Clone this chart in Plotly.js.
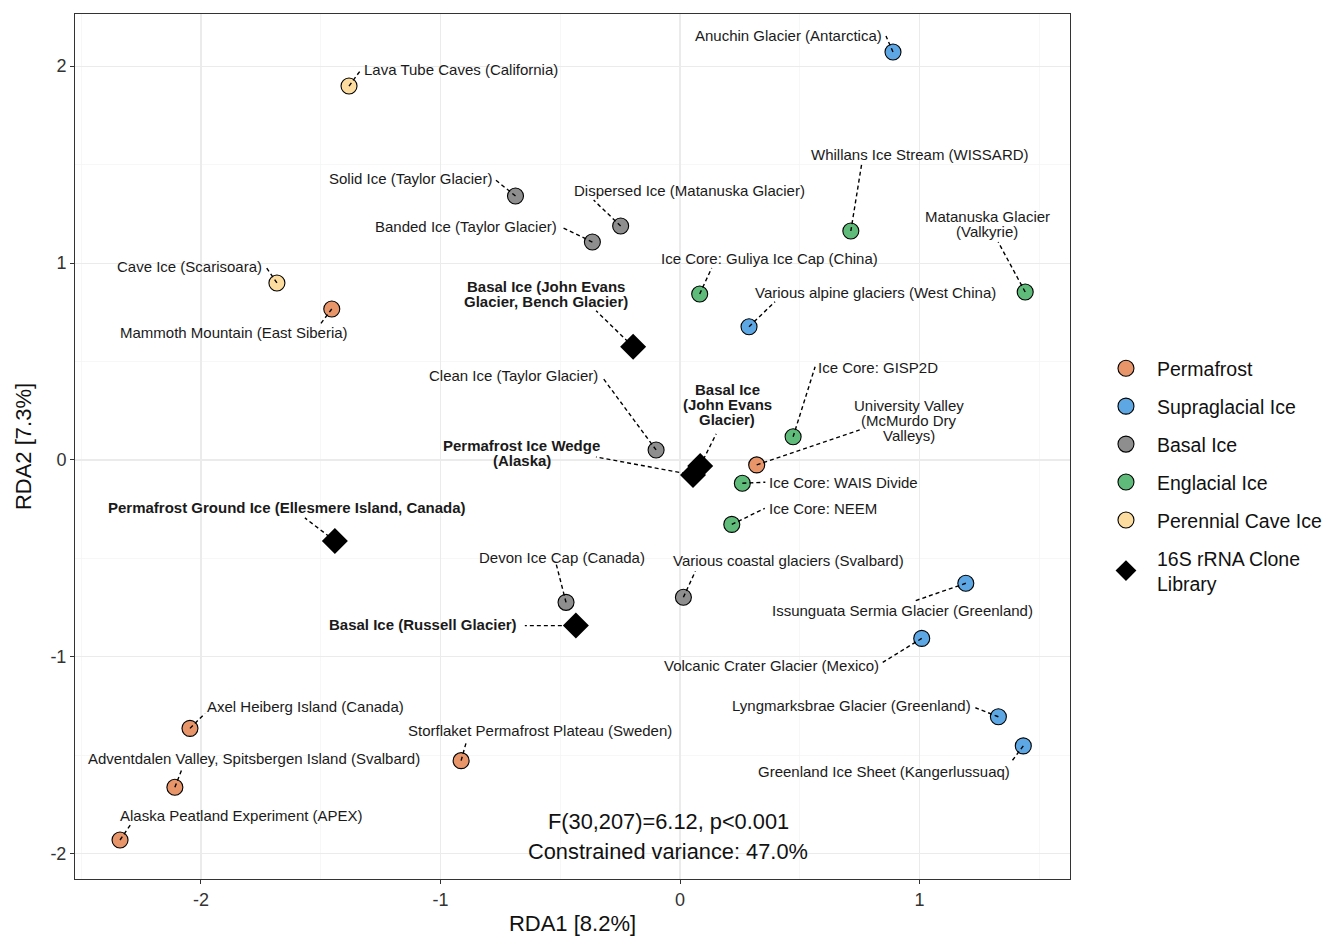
<!DOCTYPE html>
<html><head><meta charset="utf-8">
<script src="https://cdn.plot.ly/plotly-3.0.1.min.js"></script>
<style>html,body{margin:0;padding:0;background:#fff}#chart{width:1323px;height:936px}</style>
</head><body><div id="chart"></div>
<script>
// ---------------- data ----------------
const groupNames = ['Permafrost', 'Supraglacial Ice', 'Basal Ice', 'Englacial Ice', 'Perennial Cave Ice', '16S rRNA Clone<br>Library'];

const permafrostSites = ['Mammoth Mountain (East Siberia)', 'Axel Heiberg Island (Canada)', 'Adventdalen Valley, Spitsbergen Island (Svalbard)', 'Alaska Peatland Experiment (APEX)', 'Storflaket Permafrost Plateau (Sweden)', 'University Valley<br>(McMurdo Dry<br>Valleys)'];
const permafrostRDA1 = [-1.454, -2.046, -2.109, -2.338, -0.914, 0.320];
const permafrostRDA2 = [0.767, -1.363, -1.662, -1.930, -1.527, -0.025];

const supraSites = ['Anuchin Glacier (Antarctica)', 'Various alpine glaciers (West China)', 'Issunguata Sermia Glacier (Greenland)', 'Volcanic Crater Glacier (Mexico)', 'Lyngmarksbrae Glacier (Greenland)', 'Greenland Ice Sheet (Kangerlussuaq)'];
const supraRDA1 = [0.889, 0.288, 1.193, 1.009, 1.329, 1.433];
const supraRDA2 = [2.072, 0.677, -0.626, -0.906, -1.304, -1.452];

const basalSites = ['Solid Ice (Taylor Glacier)', 'Dispersed Ice (Matanuska Glacier)', 'Banded Ice (Taylor Glacier)', 'Clean Ice (Taylor Glacier)', 'Devon Ice Cap (Canada)', 'Various coastal glaciers (Svalbard)'];
const basalRDA1 = [-0.687, -0.248, -0.366, -0.100, -0.476, 0.014];
const basalRDA2 = [1.341, 1.188, 1.107, 0.051, -0.723, -0.697];

const englacialSites = ['Whillans Ice Stream (WISSARD)', 'Matanuska Glacier<br>(Valkyrie)', 'Ice Core: Guliya Ice Cap (China)', 'Ice Core: GISP2D', 'Ice Core: WAIS Divide', 'Ice Core: NEEM'];
const englacialRDA1 = [0.713, 1.441, 0.082, 0.472, 0.260, 0.216];
const englacialRDA2 = [1.163, 0.853, 0.843, 0.118, -0.118, -0.327];

const caveSites = ['Lava Tube Caves (California)', 'Cave Ice (Scarisoara)'];
const caveRDA1 = [-1.382, -1.683];
const caveRDA2 = [1.899, 0.899];

const cloneSites = ['Basal Ice (John Evans<br>Glacier, Bench Glacier)', 'Basal Ice<br>(John Evans<br>Glacier)', 'Permafrost Ice Wedge<br>(Alaska)', 'Permafrost Ground Ice (Ellesmere Island, Canada)', 'Basal Ice (Russell Glacier)'];
const cloneRDA1 = [-0.196, 0.084, 0.054, -1.441, -0.435];
const cloneRDA2 = [0.575, -0.030, -0.076, -0.411, -0.841];

const tickValues = [-2, -1, 0, 1, 2];
const tickLabels = ['-2', '-1', '0', '1', '2'];

const statLine1 = 'F(30,207)=6.12, p<0.001';
const statLine2 = 'Constrained variance: 47.0%';
const xTitle = 'RDA1 [8.2%]';
const yTitle = 'RDA2 [7.3%]';

// ---------------- label placement (pixel offsets: text centre dx,dy ; segment end sx,sy) ----------------
const permafrostLabelOffsets = [[-98,24,-12,16],[116,-22,15,-15],[79,-29,7,-18],[121,-25,11,-16],[79,-30,5,-18],[152,-44,103,-35]];
const supraLabelOffsets = [[-104,-17,-7,-16],[126,-34,26,-25],[-63,27,-52,18],[-150,27,-39,24],[-147,-11,-23,-9],[-139,26,-12,16]];
const basalLabelOffsets = [[-105,-17,-20,-16],[69,-36,-27,-26],[-126,-16,-31,-15],[-143,-74,-54,-73],[-4,-45,-10,-39],[105,-37,12,-26]];
const englacialLabelOffsets = [[69,-76,11,-68],[-38,-68.5,-27,-50],[70,-36,12,-26],[85,-69,22,-70],[101,-1,23,-1],[91,-16,33,-16]];
const caveLabelOffsets = [[112,-17,11,-15],[-87,-16,-11,-16]];
const cloneLabelOffsets = [[-87,-53,-37,-36],[27,-61,16,-32],[-171,-22,-97,-18],[-48,-33,-30,-23],[-153,-1,-51,0]];

// ---------------- styles ----------------
const FONT = 'Liberation Sans, Arial, sans-serif';
const groupStyles = [
  {color: '#E8956A', symbol: 'circle', size: 16, bold: false},
  {color: '#5DA8E4', symbol: 'circle', size: 16, bold: false},
  {color: '#8E8E8E', symbol: 'circle', size: 16, bold: false},
  {color: '#5EBB79', symbol: 'circle', size: 16, bold: false},
  {color: '#FDDC9F', symbol: 'circle', size: 16, bold: false},
  {color: '#000000', symbol: 'diamond', size: 20, bold: true}
];

const groupData = [
  [permafrostSites, permafrostRDA1, permafrostRDA2, permafrostLabelOffsets],
  [supraSites, supraRDA1, supraRDA2, supraLabelOffsets],
  [basalSites, basalRDA1, basalRDA2, basalLabelOffsets],
  [englacialSites, englacialRDA1, englacialRDA2, englacialLabelOffsets],
  [caveSites, caveRDA1, caveRDA2, caveLabelOffsets],
  [cloneSites, cloneRDA1, cloneRDA2, cloneLabelOffsets]
];

const traces = [];
const shapes = [];
const annotations = [];
const LINE_H = 15;

groupData.forEach(function(g, gi) {
  const sites = g[0], xs = g[1], ys = g[2], offs = g[3];
  const st = groupStyles[gi];
  traces.push({
    type: 'scatter', mode: 'markers', name: groupNames[gi], legendgroup: 'g' + gi,
    x: xs, y: ys, text: sites, hoverinfo: 'text',
    marker: {color: st.color, symbol: st.symbol, size: st.size,
             line: {color: '#000', width: st.symbol === 'circle' ? 1.1 : 0}}
  });
  sites.forEach(function(s, i) {
    const o = offs[i];
    shapes.push({
      type: 'line', xref: 'x', yref: 'y', xsizemode: 'pixel', ysizemode: 'pixel',
      xanchor: xs[i], yanchor: ys[i], x0: 0, y0: 0, x1: o[2], y1: -o[3],
      line: {color: '#000', width: 1.4, dash: '4px,3px'}, layer: 'above'
    });
    const lines = s.split('<br>');
    lines.forEach(function(t, li) {
      annotations.push({
        x: xs[i], y: ys[i], xref: 'x', yref: 'y', showarrow: false,
        text: st.bold ? '<b>' + t + '</b>' : t,
        xanchor: 'center', yanchor: 'middle',
        xshift: o[0], yshift: -(o[1] + (li - (lines.length - 1) / 2) * LINE_H),
        font: {family: FONT, size: 15, color: '#1a1a1a'}
      });
    });
  });
});

annotations.push({x: -0.05, y: -1.838, xref: 'x', yref: 'y', showarrow: false, text: statLine1,
  font: {family: FONT, size: 21.8, color: '#111'}, xanchor: 'center', yanchor: 'middle'});
annotations.push({x: -0.05, y: -1.99, xref: 'x', yref: 'y', showarrow: false, text: statLine2,
  font: {family: FONT, size: 21.8, color: '#111'}, xanchor: 'center', yanchor: 'middle'});

const axisCommon = {
  showline: true, mirror: true, linecolor: '#333', linewidth: 1,
  ticks: 'outside', ticklen: 4, tickcolor: '#333', tickwidth: 1,
  tickmode: 'array', tickvals: tickValues, ticktext: tickLabels,
  showgrid: true, gridcolor: '#EBEBEB', gridwidth: 1.1, zeroline: false,
  tickfont: {family: FONT, size: 18, color: '#333'},
  minor: {dtick: 0.5, tick0: 0, showgrid: true, gridcolor: '#F3F3F3', gridwidth: 0.7, ticks: ''}
};

const layout = {
  width: 1323, height: 936,
  margin: {l: 75, r: 253, t: 14, b: 57, autoexpand: false},
  paper_bgcolor: '#fff', plot_bgcolor: '#fff',
  font: {family: FONT},
  xaxis: Object.assign({}, axisCommon, {range: [-2.526, 1.628],
    title: {text: xTitle, font: {family: FONT, size: 22, color: '#111'}, standoff: 8}}),
  yaxis: Object.assign({}, axisCommon, {range: [-2.128, 2.265],
    title: {text: yTitle, font: {family: FONT, size: 22, color: '#111'}, standoff: 12}}),
  legend: {x: 1.0251, xanchor: 'left', y: 0.6127, yanchor: 'top', itemwidth: 52,
    font: {family: FONT, size: 19.5, color: '#111'}, tracegroupgap: 9.6,
    bgcolor: 'rgba(0,0,0,0)', borderwidth: 0},
  showlegend: true,
  shapes: shapes,
  annotations: annotations
};

Plotly.newPlot('chart', traces, layout, {displayModeBar: false, staticPlot: true});
</script>
</body></html>
